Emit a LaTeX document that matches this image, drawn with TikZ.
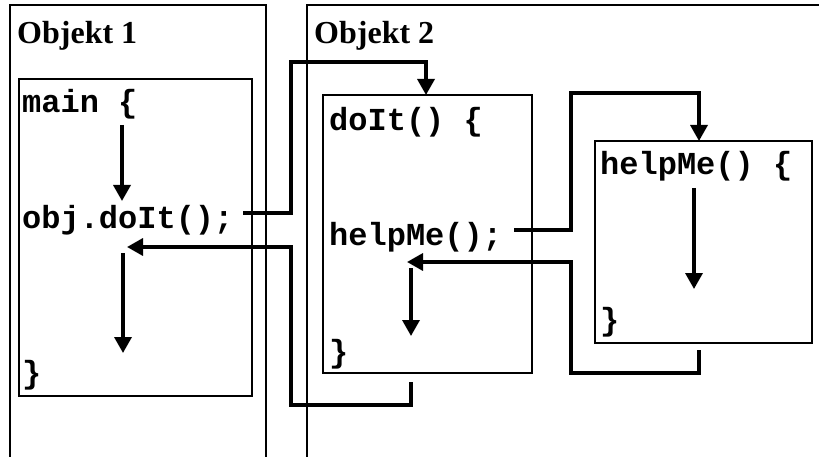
\documentclass[tikz,border=0pt]{standalone}
\usepackage{fontspec}
\setmainfont{Liberation Serif}
\newfontfamily\codefont{Liberation Mono}
\usetikzlibrary{arrows.meta}
\begin{document}
\begin{tikzpicture}[x=1pt,y=-1pt,
  frame/.style={line width=1.6pt},
  codebox/.style={draw, line width=1.6pt, anchor=north west, inner sep=0pt, minimum width=#1},
  title/.style={anchor=base west, inner sep=0pt, font=\fontsize{32}{32}\selectfont\bfseries},
  code/.style={anchor=base west, inner sep=0pt, font=\fontsize{32}{32}\selectfont\codefont\bfseries},
  flow/.style={line width=3.4pt, -{Triangle[length=16pt,width=17pt]}}
]
\useasboundingbox (0,0) rectangle (819,457);
% outer frames
\draw[frame] (10,460) -- (10,5) -- (266,5) -- (266,460);
\draw[frame] (307,460) -- (307,5) -- (822,5);
\node[title] (t1) at (17,44) {Objekt 1};
\node[title] (t2) at (314,44) {Objekt 2};
% method boxes
\node[codebox=233pt, minimum height=317pt] (mainbox) at (18,78) {};
\node[codebox=209pt, minimum height=278pt] (doitbox) at (322,94) {};
\node[codebox=217pt, minimum height=202pt] (helpbox) at (594,140) {};
% code texts
\node[code] (m1) at (22,113) {main \{};
\node[code] (m2) at (22,229) {obj.doIt();};
\node[code] (m3) at (22,383) {\}};
\node[code] (d1) at (329,131) {doIt() \{};
\node[code] (d2) at (329,245) {helpMe();};
\node[code] (d3) at (329,362) {\}};
\node[code] (h1) at (600,175) {helpMe() \{};
\node[code] (h3) at (600,330) {\}};
% coordinates
\coordinate (ma1) at (122,125);
\coordinate (ma2) at (122,201);
\coordinate (mb1) at (123,253);
\coordinate (mb2) at (123,353);
\coordinate (call1) at (243,213);
\coordinate (in1) at (426,95);
\coordinate (da1) at (411,268);
\coordinate (da2) at (411,336);
\coordinate (call2) at (514,230);
\coordinate (in2) at (699,141);
\coordinate (ha1) at (694,188);
\coordinate (ha2) at (694,289);
\coordinate (out2) at (699,350);
\coordinate (ret2) at (407,262);
\coordinate (out1) at (411,382);
\coordinate (ret1) at (127,247);
% flow inside methods
\draw[flow] (ma1) -- (ma2);
\draw[flow] (mb1) -- (mb2);
\draw[flow] (da1) -- (da2);
\draw[flow] (ha1) -- (ha2);
% calls
\draw[flow] (call1) -- (291,213) -- (291,62) -- (426,62) -- (in1);
\draw[flow] (call2) -- (571,230) -- (571,93) -- (699,93) -- (in2);
% returns
\draw[flow] (out2) -- (699,373) -- (571,373) -- (571,262) -- (ret2);
\draw[flow] (out1) -- (411,405) -- (291,405) -- (291,247) -- (ret1);
\end{tikzpicture}
\end{document}
